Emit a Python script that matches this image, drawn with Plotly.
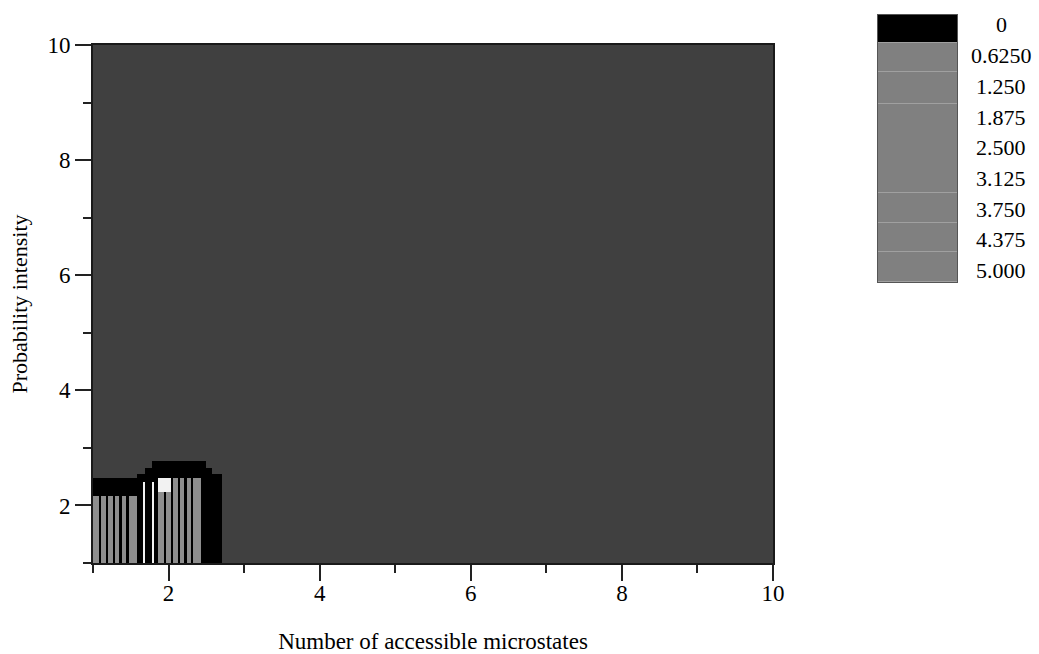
import plotly.graph_objects as go

W, H = 1039, 654

# ---- main map data (intensity classes) ----
# column edges along "Number of accessible microstates"
x_edges = [1.00, 1.08, 1.11, 1.17, 1.20, 1.26, 1.29, 1.35, 1.38, 1.44, 1.47, 1.58,
           1.66, 1.69, 1.78, 1.81, 1.86, 1.94, 1.97, 2.03, 2.06, 2.12, 2.15, 2.21,
           2.24, 2.30, 2.33, 2.43, 2.50, 2.58, 2.71, 10.0]
# row edges along "Probability intensity"
y_edges = [1.0, 2.17, 2.24, 2.40, 2.47, 2.55, 2.65, 2.78, 10.0]
# class codes per row (K = 0 level, G = mid level, W = highlight, D = background)
rows = [
    "GKGKGKGKGKG" + "KWKWK" + "GKGKGKGKGKG" + "KKK" + "D",
    "KKKKKKKKKKK" + "KWKWK" + "GKGKGKGKGKG" + "KKK" + "D",
    "KKKKKKKKKKK" + "KWKWK" + "WWWKGKGKGKG" + "KKK" + "D",
    "KKKKKKKKKKK" + "KKKKK" + "WWWKGKGKGKG" + "KKK" + "D",
    "DDDDDDDDDDD" + "KKKKK" + "KKKKKKKKKKK" + "KKK" + "D",
    "DDDDDDDDDDD" + "DDKKK" + "KKKKKKKKKKK" + "KKD" + "D",
    "DDDDDDDDDDD" + "DDDKK" + "KKKKKKKKKKK" + "KDD" + "D",
    "DDDDDDDDDDD" + "DDDDD" + "DDDDDDDDDDD" + "DDD" + "D",
]
code_value = {"K": 0, "G": 1, "W": 2, "D": 3}

# ---- legend bar data ----
levels = [0, 0.625, 1.25, 1.875, 2.5, 3.125, 3.75, 4.375, 5.0]
level_labels = ["0", "0.6250", "1.250", "1.875", "2.500", "3.125", "3.750", "4.375", "5.000"]
cb_edges = [-0.2, 0.37, 0.96, 1.62, 3.42, 4.04, 4.61, 5.23]
cb_class = [0, 1, 1, 1, 1, 1, 1]

z = [[code_value[c] for c in r] for r in rows]

FONT = "Liberation Serif"

fig = go.Figure()
fig.add_trace(go.Heatmap(
    x=x_edges, y=y_edges, z=z, zmin=0, zmax=3, zsmooth=False,
    colorscale=[[0, "#000000"], [0.1667, "#000000"], [0.1667, "#8e8e8e"], [0.5, "#8e8e8e"],
                [0.5, "#f2f2f2"], [0.8333, "#f2f2f2"], [0.8333, "#404040"], [1, "#404040"]],
    showscale=False, hoverinfo="skip", xaxis="x", yaxis="y"))

fig.add_trace(go.Heatmap(
    x=[0, 1], y=cb_edges, z=[[v] for v in cb_class], zmin=0, zmax=1, zsmooth=False,
    colorscale=[[0, "#000000"], [0.5, "#000000"], [0.5, "#808080"], [1, "#808080"]],
    ygap=1, showscale=False, hoverinfo="skip", xaxis="x2", yaxis="y2"))

for v, t in zip(levels, level_labels):
    fig.add_annotation(x=1001 / W, xref="paper", y=v, yref="y2", text=t, showarrow=False,
                       xanchor="center", yanchor="middle",
                       font=dict(family=FONT, size=22, color="black"))

fig.update_layout(
    width=W, height=H, margin=dict(l=0, r=0, t=0, b=0, autoexpand=False),
    paper_bgcolor="white", plot_bgcolor="#a0a0a0",
    font=dict(family=FONT, size=23, color="black"),
    xaxis=dict(domain=[93 / W, 773 / W], range=[1, 10], tickmode="array",
               tickvals=[2, 4, 6, 8, 10], ticks="outside", ticklen=16, tickwidth=2,
               tickcolor="#222", ticklabelstandoff=-8,
               minor=dict(tickvals=[1, 3, 5, 7, 9], ticks="outside",
                          ticklen=8, tickwidth=2, tickcolor="#222"),
               showline=True, linecolor="#1a1a1a", linewidth=2, mirror=True,
               showgrid=False, zeroline=False, automargin=False,
               title=dict(text="Number of accessible microstates", standoff=34,
                          font=dict(size=23)),
               anchor="y"),
    yaxis=dict(domain=[(H - 563) / H, (H - 45) / H], range=[1, 10], tickmode="array",
               tickvals=[2, 4, 6, 8, 10], ticks="outside", ticklen=16, tickwidth=2,
               tickcolor="#222", minor=dict(tickvals=[1, 3, 5, 7, 9], ticks="outside",
                                            ticklen=8, tickwidth=2, tickcolor="#222"),
               showline=True, linecolor="#1a1a1a", linewidth=2, mirror=True,
               showgrid=False, zeroline=False, automargin=False,
               title=dict(text="Probability intensity", standoff=14, font=dict(size=22)),
               anchor="x"),
    xaxis2=dict(domain=[878 / W, 957 / W], range=[0, 1], anchor="y2",
                showticklabels=False, ticks="", showline=True, mirror=True,
                linecolor="#555555", linewidth=1,
                showgrid=False, zeroline=False, automargin=False),
    yaxis2=dict(domain=[(H - 282) / H, (H - 15) / H], range=[5.23, -0.2], anchor="x2",
                showticklabels=False, ticks="", showline=True, mirror=True,
                linecolor="#555555", linewidth=1,
                showgrid=False, zeroline=False, automargin=False),
    showlegend=False,
)

fig.write_html("out.html")
